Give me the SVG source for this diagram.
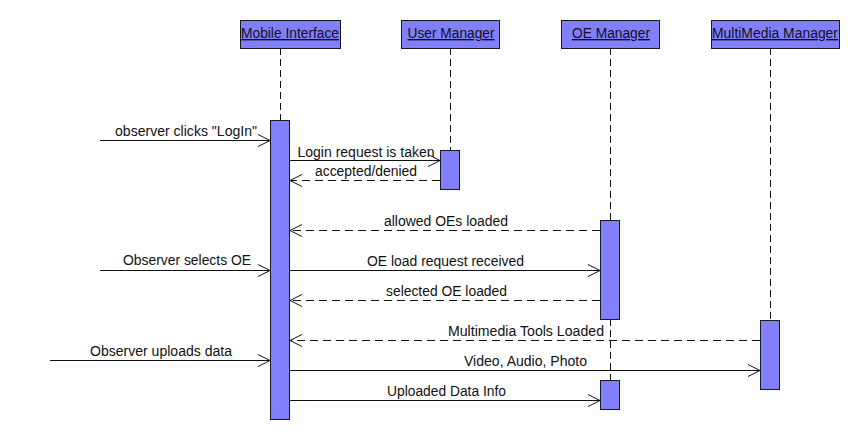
<svg xmlns="http://www.w3.org/2000/svg" width="860" height="440" viewBox="0 0 860 440">
<style>
.hdr{fill:#8080ff;stroke:#1a1a1a;stroke-width:1}
.bar{fill:#8080ff;stroke:#1a1a1a;stroke-width:1}
.life{stroke:#111;stroke-width:1;stroke-dasharray:7,4;fill:none}
.msg{stroke:#111;stroke-width:1;fill:none}
.ret{stroke:#111;stroke-width:1;fill:none;stroke-dasharray:8,5}
.ht{font-family:"Liberation Sans",Arial,sans-serif;font-size:14px;fill:#111;text-anchor:middle;text-decoration:underline}
.lt{font-family:"Liberation Sans",Arial,sans-serif;font-size:14px;fill:#111;text-anchor:middle}
</style>
<defs>
<marker id="open" markerUnits="userSpaceOnUse" markerWidth="16" markerHeight="16" viewBox="-14 -8 16 16" refX="0" refY="0" orient="auto">
<path d="M-12,-6 L0,0 L-12,6" fill="none" stroke="#111" stroke-width="1"/>
</marker>
</defs>
<rect width="860" height="440" fill="#fff"/>
<g id="lifelines">
<line class="life" x1="280.5" y1="48" x2="280.5" y2="120"/>
<line class="life" x1="450.5" y1="48" x2="450.5" y2="150"/>
<line class="life" x1="610.5" y1="48" x2="610.5" y2="220"/>
<line class="life" x1="610.5" y1="319" x2="610.5" y2="380"/>
<line class="life" x1="770.5" y1="48" x2="770.5" y2="320"/>
</g>
<g id="mobile-interface">
<rect class="hdr" x="240.5" y="20.5" width="100" height="28"/>
<text class="ht" x="290" y="38" textLength="98" lengthAdjust="spacingAndGlyphs">Mobile Interface</text>
<rect class="bar" x="270.5" y="120.5" width="19" height="299"/>
</g>
<g id="user-manager">
<rect class="hdr" x="401.5" y="20.5" width="98" height="28"/>
<text class="ht" x="451" y="38" textLength="87" lengthAdjust="spacingAndGlyphs">User Manager</text>
<rect class="bar" x="440.5" y="150.5" width="19" height="39"/>
</g>
<g id="oe-manager">
<rect class="hdr" x="561.5" y="20.5" width="98" height="28"/>
<text class="ht" x="611" y="38" textLength="78" lengthAdjust="spacingAndGlyphs">OE Manager</text>
<rect class="bar" x="600.5" y="220.5" width="19" height="99"/>
<rect class="bar" x="600.5" y="380.5" width="19" height="29"/>
</g>
<g id="multimedia-manager">
<rect class="hdr" x="711.5" y="20.5" width="128" height="28"/>
<text class="ht" x="775" y="38" textLength="126" lengthAdjust="spacingAndGlyphs">MultiMedia Manager</text>
<rect class="bar" x="760.5" y="320.5" width="19" height="69"/>
</g>
<g id="connectors">
<line class="msg" x1="100" y1="140.5" x2="270" y2="140.5" marker-end="url(#open)"/>
<line class="msg" x1="290" y1="160.5" x2="440" y2="160.5" marker-end="url(#open)"/>
<line class="ret" x1="440" y1="180.5" x2="290" y2="180.5" marker-end="url(#open)"/>
<line class="ret" x1="600" y1="230.5" x2="290" y2="230.5" marker-end="url(#open)"/>
<line class="msg" x1="100" y1="270.5" x2="270" y2="270.5" marker-end="url(#open)"/>
<line class="msg" x1="290" y1="270.5" x2="600" y2="270.5" marker-end="url(#open)"/>
<line class="ret" x1="600" y1="300.5" x2="290" y2="300.5" marker-end="url(#open)"/>
<line class="ret" x1="760" y1="340.5" x2="290" y2="340.5" marker-end="url(#open)"/>
<line class="msg" x1="50" y1="360.5" x2="270" y2="360.5" marker-end="url(#open)"/>
<line class="msg" x1="290" y1="370.5" x2="760" y2="370.5" marker-end="url(#open)"/>
<line class="msg" x1="290" y1="400.5" x2="600" y2="400.5" marker-end="url(#open)"/>
</g>
<g id="labels">
<text class="lt" x="186" y="136" textLength="142" lengthAdjust="spacingAndGlyphs">observer clicks "LogIn"</text>
<text class="lt" x="366" y="157" textLength="137" lengthAdjust="spacingAndGlyphs">Login request is taken</text>
<text class="lt" x="366" y="176" textLength="102" lengthAdjust="spacingAndGlyphs">accepted/denied</text>
<text class="lt" x="446" y="226" textLength="124" lengthAdjust="spacingAndGlyphs">allowed OEs loaded</text>
<text class="lt" x="187" y="265" textLength="128" lengthAdjust="spacingAndGlyphs">Observer selects OE</text>
<text class="lt" x="445.5" y="266" textLength="157" lengthAdjust="spacingAndGlyphs">OE load request received</text>
<text class="lt" x="446.5" y="296" textLength="121" lengthAdjust="spacingAndGlyphs">selected OE loaded</text>
<text class="lt" x="526" y="336" textLength="156" lengthAdjust="spacingAndGlyphs">Multimedia Tools Loaded</text>
<text class="lt" x="161" y="356" textLength="142" lengthAdjust="spacingAndGlyphs">Observer uploads data</text>
<text class="lt" x="525.5" y="366" textLength="123" lengthAdjust="spacingAndGlyphs">Video, Audio, Photo</text>
<text class="lt" x="446.5" y="396" textLength="119" lengthAdjust="spacingAndGlyphs">Uploaded Data Info</text>
</g>
</svg>
